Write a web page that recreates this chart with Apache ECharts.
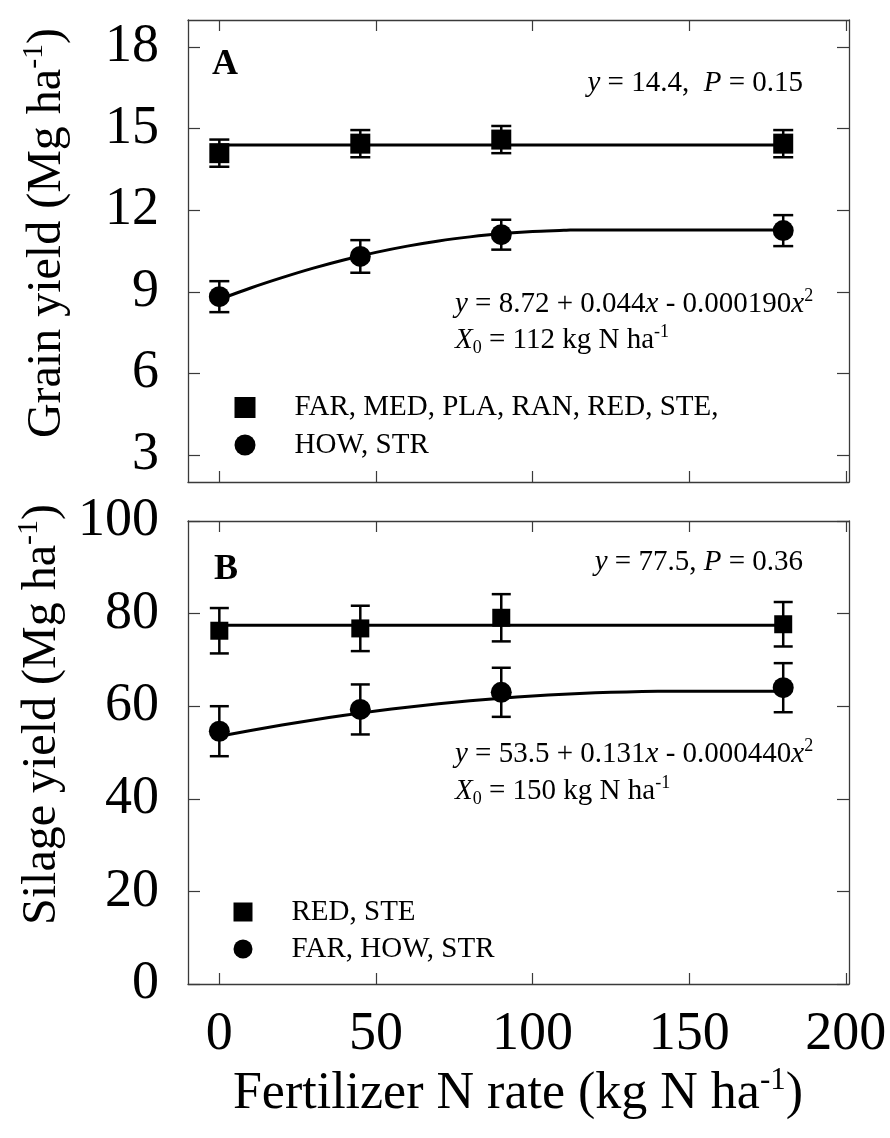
<!DOCTYPE html>
<html>
<head>
<meta charset="utf-8">
<script src="https://cdn.jsdelivr.net/npm/echarts@6/dist/echarts.min.js"></script>
<style>
  html, body { margin: 0; padding: 0; background: #fff; }
  #chart { width: 890px; height: 1138px; }
</style>
</head>
<body>
<div id="chart"></div>
<script>
// ---------------- data ----------------
const xRates = [0, 45, 90, 180];
const xTicks = [0, 50, 100, 150, 200];
const grainTicks = [3, 6, 9, 12, 15, 18];
const silageTicks = [0, 20, 40, 60, 80, 100];

const grainSquareName = 'FAR, MED, PLA, RAN, RED, STE,';
const grainCircleName = 'HOW, STR';
const silageSquareName = 'RED, STE';
const silageCircleName = 'FAR, HOW, STR';

const grainSquare = [14.1, 14.45, 14.6, 14.45];
const grainSquareErr = [0.5, 0.5, 0.5, 0.5];
const grainCircle = [8.82, 10.3, 11.1, 11.25];
const grainCircleErr = [0.57, 0.6, 0.55, 0.57];

const silageSquare = [76.3, 76.8, 79.1, 77.7];
const silageSquareErr = [4.9, 4.9, 5.1, 4.8];
const silageCircle = [54.6, 59.3, 63.0, 64.0];
const silageCircleErr = [5.4, 5.4, 5.3, 5.3];

// fitted lines (values of the printed regressions)
const grainFlatX = [0, 180];
const grainFlatY = [14.4, 14.4];
const grainFitX = [0, 10, 20, 30, 40, 50, 60, 70, 80, 90, 100, 110, 112, 180];
const grainFitY = [8.72, 9.14, 9.52, 9.87, 10.18, 10.45, 10.68, 10.87, 11.02, 11.14, 11.22, 11.26, 11.27, 11.27];
const silageFlatX = [0, 180];
const silageFlatY = [77.5, 77.5];
const silageFitX = [0, 10, 20, 30, 40, 50, 60, 70, 80, 90, 100, 110, 120, 130, 140, 150, 180];
const silageFitY = [53.5, 54.77, 55.94, 57.03, 58.04, 58.95, 59.78, 60.51, 61.16, 61.73, 62.2, 62.59, 62.88, 63.09, 63.22, 63.25, 63.25];

// text
const grainTitle = 'Grain yield (Mg ha{sup|-1})';
const silageTitle = 'Silage yield (Mg ha{sup|-1})';
const xTitle = 'Fertilizer N rate (kg N ha{sup|-1})';
const annA1 = '{i|y} = 14.4,  {i|P} = 0.15';
const eqA1 = '{i|y} = 8.72 + 0.044{i|x} - 0.000190{i|x}{sup|2}';
const eqA2 = '{i|X}{sub|0} = 112 kg N ha{sup|-1}';
const annB1 = '{i|y} = 77.5, {i|P} = 0.36';
const eqB1 = '{i|y} = 53.5 + 0.131{i|x} - 0.000440{i|x}{sup|2}';
const eqB2 = '{i|X}{sub|0} = 150 kg N ha{sup|-1}';

// ---------------- helpers ----------------
const FONT = 'Liberation Serif';
const zip = (xs, ys) => xs.map((x, i) => [x, ys[i]]);
const zip3 = (xs, ys, es) => xs.map((x, i) => [x, ys[i], es[i]]);

const axisLine = { show: true, onZero: false, lineStyle: { color: '#3a3a3a', width: 1.3 } };

function xAx(grid, pos, showLabel, extra) {
  return Object.assign({
    type: 'value', gridIndex: grid, position: pos, min: -10, max: 201,
    axisLine: axisLine,
    axisTick: { show: true, inside: true, length: 11, customValues: xTicks, lineStyle: { color: '#3a3a3a', width: 1.2 } },
    axisLabel: { show: showLabel, customValues: xTicks, fontFamily: FONT, fontSize: 54, color: '#000', margin: 24 },
    splitLine: { show: false }
  }, extra || {});
}
function yAx(grid, pos, min, max, ticks, showLabel, extra) {
  return Object.assign({
    type: 'value', gridIndex: grid, position: pos, min: min, max: max,
    axisLine: axisLine,
    axisTick: { show: true, inside: true, length: 12, customValues: ticks, lineStyle: { color: '#3a3a3a', width: 1.2 } },
    axisLabel: { show: showLabel, customValues: ticks, fontFamily: FONT, fontSize: 54, color: '#000', margin: 29 },
    splitLine: { show: false }
  }, extra || {});
}

function errorBars(capW) {
  return function (params, api) {
    const x = api.value(0), y = api.value(1), e = api.value(2);
    const t = api.coord([x, y + e]);
    const b = api.coord([x, y - e]);
    const hw = capW / 2;
    const st = { stroke: '#000', lineWidth: 2.5 };
    return {
      type: 'group',
      children: [
        { type: 'line', shape: { x1: t[0], y1: t[1], x2: b[0], y2: b[1] }, style: st },
        { type: 'line', shape: { x1: t[0] - hw, y1: t[1], x2: t[0] + hw, y2: t[1] }, style: st },
        { type: 'line', shape: { x1: b[0] - hw, y1: b[1], x2: b[0] + hw, y2: b[1] }, style: st }
      ]
    };
  };
}

const titleRich = {
  sup: { fontFamily: FONT, fontSize: 30, color: '#000', verticalAlign: 'top', lineHeight: 56 }
};
const xTitleRich = {
  sup: { fontFamily: FONT, fontSize: 31, fill: '#000', verticalAlign: 'top', lineHeight: 58 }
};
const eqRich = {
  i: { fontFamily: FONT, fontStyle: 'italic', fontSize: 29, fill: '#000', lineHeight: 34 },
  sup: { fontFamily: FONT, fontSize: 18, fill: '#000', verticalAlign: 'top', lineHeight: 34 },
  sub: { fontFamily: FONT, fontSize: 18, fill: '#000', verticalAlign: 'bottom', lineHeight: 34 }
};
function eqText(txt, x, y, align) {
  return {
    type: 'text', x: x, y: y, z: 10,
    style: {
      text: txt, fontFamily: FONT, fontSize: 29, fill: '#000', lineHeight: 34,
      align: align || 'left', verticalAlign: 'middle', rich: eqRich
    }
  };
}
function panelLetter(txt, x, y) {
  return {
    type: 'text', x: x, y: y, z: 10,
    style: { text: txt, fontFamily: FONT, fontWeight: 'bold', fontSize: 36, fill: '#000', align: 'left', verticalAlign: 'middle' }
  };
}

const legendText = { fontFamily: FONT, fontSize: 29, color: '#000', padding: [0, 0, 0, 34] };

const option = {
  backgroundColor: '#fff',
  animation: false,
  grid: [
    { left: 188, top: 20, width: 661, height: 462, outerBoundsMode: 'none', containLabel: false },
    { left: 188, top: 521, width: 661, height: 463, outerBoundsMode: 'none', containLabel: false }
  ],
  xAxis: [
    xAx(0, 'bottom', false),
    xAx(0, 'top', false),
    xAx(1, 'bottom', true),
    xAx(1, 'top', false)
  ],
  yAxis: [
    yAx(0, 'left', 2, 19, grainTicks, true, {
      name: grainTitle, nameLocation: 'middle', nameGap: 113,
      nameTextStyle: { fontFamily: FONT, fontSize: 48, color: '#000', rich: titleRich, padding: [0, 0, 0, 36] }
    }),
    yAx(0, 'right', 2, 19, grainTicks, false),
    yAx(1, 'left', 0, 100, silageTicks, true, {
      name: silageTitle, nameLocation: 'middle', nameGap: 118,
      nameTextStyle: { fontFamily: FONT, fontSize: 48, color: '#000', rich: titleRich, padding: [0, 0, 0, 76] }
    }),
    yAx(1, 'right', 0, 100, silageTicks, false)
  ],
  legend: [
    {
      data: [{ name: grainSquareName, icon: 'rect' }, { name: grainCircleName, icon: 'circle' }],
      orient: 'vertical', left: 234.5, top: 393, padding: 0,
      itemWidth: 21, itemHeight: 21, itemGap: 8.5, selectedMode: false,
      textStyle: legendText
    },
    {
      data: [{ name: silageSquareName, icon: 'rect' }, { name: silageCircleName, icon: 'circle' }],
      orient: 'vertical', left: 233.5, top: 897.5, padding: 0,
      itemWidth: 19, itemHeight: 19, itemGap: 8, selectedMode: false,
      textStyle: legendText
    }
  ],
  series: [
    // ---- panel A ----
    { name: 'errA1', type: 'custom', xAxisIndex: 0, yAxisIndex: 0, z: 2, renderItem: errorBars(20), data: zip3(xRates, grainSquare, grainSquareErr) },
    { name: 'errA2', type: 'custom', xAxisIndex: 0, yAxisIndex: 0, z: 2, renderItem: errorBars(20), data: zip3(xRates, grainCircle, grainCircleErr) },
    { name: 'fitA1', type: 'line', xAxisIndex: 0, yAxisIndex: 0, z: 3, showSymbol: false, symbol: 'none', lineStyle: { color: '#000', width: 3 }, data: zip(grainFlatX, grainFlatY) },
    { name: 'fitA2', type: 'line', xAxisIndex: 0, yAxisIndex: 0, z: 3, showSymbol: false, symbol: 'none', smooth: 0.3, lineStyle: { color: '#000', width: 3 }, data: zip(grainFitX, grainFitY) },
    { name: grainSquareName, type: 'scatter', xAxisIndex: 0, yAxisIndex: 0, z: 4, symbol: 'rect', symbolSize: 20, itemStyle: { color: '#000', opacity: 1 }, data: zip(xRates, grainSquare) },
    { name: grainCircleName, type: 'scatter', xAxisIndex: 0, yAxisIndex: 0, z: 4, symbol: 'circle', symbolSize: 21, itemStyle: { color: '#000', opacity: 1 }, data: zip(xRates, grainCircle) },
    // ---- panel B ----
    { name: 'errB1', type: 'custom', xAxisIndex: 2, yAxisIndex: 2, z: 2, renderItem: errorBars(19), data: zip3(xRates, silageSquare, silageSquareErr) },
    { name: 'errB2', type: 'custom', xAxisIndex: 2, yAxisIndex: 2, z: 2, renderItem: errorBars(19), data: zip3(xRates, silageCircle, silageCircleErr) },
    { name: 'fitB1', type: 'line', xAxisIndex: 2, yAxisIndex: 2, z: 3, showSymbol: false, symbol: 'none', lineStyle: { color: '#000', width: 3 }, data: zip(silageFlatX, silageFlatY) },
    { name: 'fitB2', type: 'line', xAxisIndex: 2, yAxisIndex: 2, z: 3, showSymbol: false, symbol: 'none', smooth: 0.3, lineStyle: { color: '#000', width: 3 }, data: zip(silageFitX, silageFitY) },
    { name: silageSquareName, type: 'scatter', xAxisIndex: 2, yAxisIndex: 2, z: 4, symbol: 'rect', symbolSize: 18, itemStyle: { color: '#000', opacity: 1 }, data: zip(xRates, silageSquare) },
    { name: silageCircleName, type: 'scatter', xAxisIndex: 2, yAxisIndex: 2, z: 4, symbol: 'circle', symbolSize: 21, itemStyle: { color: '#000', opacity: 1 }, data: zip(xRates, silageCircle) }
  ],
  graphic: [
    panelLetter('A', 212, 65),
    panelLetter('B', 214, 570),
    eqText(annA1, 803, 83, 'right'),
    eqText(eqA1, 455, 304, 'left'),
    eqText(eqA2, 455, 340, 'left'),
    eqText(annB1, 803, 562, 'right'),
    eqText(eqB1, 455, 754, 'left'),
    eqText(eqB2, 455, 791, 'left'),
    {
      type: 'text', x: 518, y: 1094, z: 10,
      style: { text: xTitle, fontFamily: FONT, fontSize: 52, fill: '#000', align: 'center', verticalAlign: 'middle', rich: xTitleRich }
    }
  ]
};

const chart = echarts.init(document.getElementById('chart'), null, { renderer: 'canvas' });
chart.setOption(option);
</script>
</body>
</html>
